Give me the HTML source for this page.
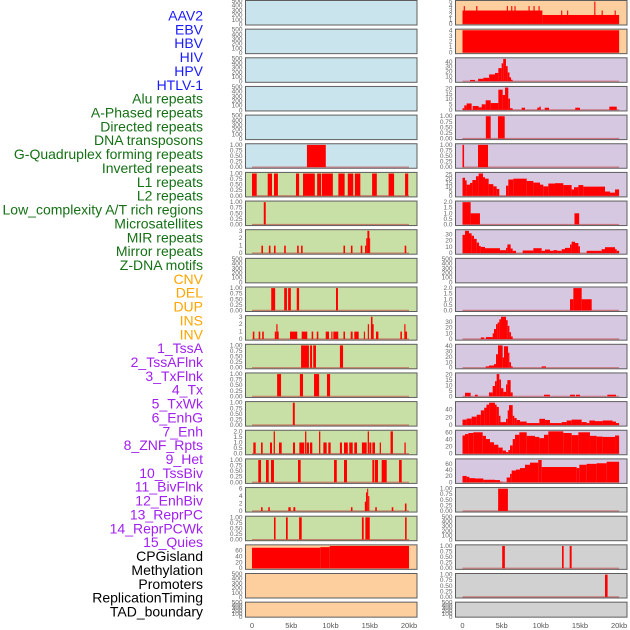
<!DOCTYPE html>
<html><head><meta charset="utf-8"><style>
html,body{margin:0;padding:0;background:#fff;width:630px;height:630px;overflow:hidden}
svg{display:block;font-family:"Liberation Sans",sans-serif}
</style></head><body>
<svg id="chart" width="630" height="630" viewBox="0 0 630 630" xmlns="http://www.w3.org/2000/svg"></svg>
<script>
const labelNames=["AAV2","EBV","HBV","HIV","HPV","HTLV-1","Alu repeats","A-Phased repeats","Directed repeats","DNA transposons","G-Quadruplex forming repeats","Inverted repeats","L1 repeats","L2 repeats","Low_complexity A/T rich regions","Microsatellites","MIR repeats","Mirror repeats","Z-DNA motifs","CNV","DEL","DUP","INS","INV","1_TssA","2_TssAFlnk","3_TxFlnk","4_Tx","5_TxWk","6_EnhG","7_Enh","8_ZNF_Rpts","9_Het","10_TssBiv","11_BivFlnk","12_EnhBiv","13_ReprPC","14_ReprPCWk","15_Quies","CPGisland","Methylation","Promoters","ReplicationTiming","TAD_boundary"];
const labelGroups=[6,13,5,15,5];
const groupColors=["#1a1aff","#157015","#ffa500","#a020f0","#000000"];
const xTickValues=[0,5,10,15,20];
const xTickLabels=["0","5kb","10kb","15kb","20kb"];
const E=[0,100,200,300,400,500], B=[0,0.25,0.5,0.75,1], T2=[0,0.5,1,1.5,2], T3=[0,1,2,3];
const L5=[[7.0,9.4,1]];
const L6=[[0,0.6,1],[2.0,2.55,1],[2.8,3.3,1],[5.6,6.0,1],[6.5,8.0,1],[8.3,8.8,1],[8.9,10.3,1],[11.0,11.8,1],[12.2,12.9,1],[13.1,13.8,1],[15.3,15.9,1],[17.4,18.1,1],[19.5,19.9,1]];
const L7=[[1.5,1.75,1]];
const L8=[[1.2,1.4,1],[2.15,2.35,1],[2.8,3.0,1],[4.1,4.3,1],[5.75,5.95,1],[6.25,6.45,1],[11.65,11.85,1],[12.6,12.8,1],[13.85,14.05,1],[14.4,14.55,1],[14.55,14.7,2],[14.7,14.95,3],[14.95,15.05,2],[19.45,19.65,1]];
const L10=[[2.45,2.95,1],[4.1,4.45,1],[4.6,4.95,1],[5.7,6.0,1],[10.7,10.95,1]];
const L11=[[0.1,0.3,1],[0.85,1.05,1],[1.3,1.5,1],[2.9,3.1,1],[3.1,3.25,2],[3.25,3.4,1],[4.84,5.77,1],[6.33,7.04,1],[7.6,7.8,1],[8.25,8.45,1],[9.39,9.81,1],[10.1,10.25,1],[10.36,10.99,1],[11.65,11.85,1],[12.57,12.82,1],[13.03,13.59,1],[14.25,14.4,1],[14.75,14.9,2],[15.15,15.35,3],[15.35,15.5,2],[15.8,16.1,1],[18.9,19.1,1],[19.4,19.55,2],[19.55,19.75,1]];
const L12=[[6.25,7.25,1],[7.4,7.65,1],[7.8,8.15,1],[11.2,11.6,1]];
const L13=[[3.2,3.7,1],[6.1,6.5,1],[7.9,8.55,1],[9.55,9.95,1]];
const L14=[[5.2,5.45,1]];
const L15=[[0.17,0.47,1],[1.15,1.36,1],[2.29,2.55,1],[2.76,2.92,2],[3.44,3.78,1],[5.22,5.48,1],[6.03,6.66,1],[6.76,6.92,2],[6.97,7.26,1],[7.39,7.68,1],[8.54,8.7,2],[9.09,9.51,1],[9.72,10.02,1],[11.2,11.46,1],[11.72,12.2,1],[12.39,12.83,1],[13.03,13.38,1],[14.0,14.61,1],[14.74,14.9,2],[14.94,15.2,1],[15.33,15.67,1],[16.27,16.43,1],[17.65,17.95,2],[19.42,19.58,1]];
const L16=[[0.8,1.15,1],[1.78,2.13,1],[2.42,2.8,1],[5.86,6.2,1],[10.45,10.8,1],[11.72,12.1,1],[15.33,15.58,1],[15.67,16.05,1],[16.52,17.16,1],[18.73,19.07,1]];
const L17=[[1.15,1.35,1],[2.07,2.27,1],[4.63,4.93,1],[5.27,5.52,1],[12.6,12.8,1],[14.37,14.52,2.5],[14.52,14.67,5],[14.67,14.8,6],[14.8,14.95,4],[15.7,15.9,1],[17.8,18.0,1],[19.48,19.68,2]];
const L18=[[2.8,3.0,1],[4.33,4.55,1],[6.0,6.33,1],[14.0,14.23,1],[14.44,15.0,1],[19.5,19.7,1]];
const L19=[[0,8.7,69],[8.7,9.9,71],[9.9,20,75]];
const R0=[[0,10.2,3],[10.2,20,2],[0.16,0.3,4],[1.75,1.9,4],[5.66,5.8,4],[6.22,6.36,4],[6.64,6.78,4],[8.43,8.57,4],[9.07,9.21,4],[9.71,9.85,4],[12.6,12.74,3],[13.36,13.5,3],[16.83,16.97,5],[17.77,17.91,3],[19.43,19.57,3]];
const R1=[[0,20,4]];
const R2=[[0.96,1.6,2.6],[2.0,2.66,5],[2.66,3.4,7],[3.4,4.15,14],[4.15,4.58,17],[4.58,5.0,27],[5.0,5.2,37],[5.2,5.55,46],[5.55,5.77,31],[5.77,6.0,18],[6.0,6.2,8],[6.2,6.4,3]];
const R3=[[0,0.23,1.5],[0.23,0.53,4.2],[0.53,1.17,6],[1.3,2.06,3.6],[2.06,2.45,2.4],[2.45,2.96,5.2],[2.96,3.6,9],[3.6,4.58,6.4],[4.58,5.13,19],[5.13,5.43,14],[5.43,5.85,21],[5.85,6.07,10.6],[6.07,6.4,1.5],[7.55,7.98,2],[9.55,9.8,2],[9.8,10.0,3],[10.5,11.05,2],[14.4,15.0,2],[18.75,19.7,3]];
const R4=[[2.98,3.6,1],[4.53,5.39,1]];
const R5=[[0,0.2,1],[1.98,3.26,1]];
const R6=[[0,0.32,21],[0.32,0.53,18],[0.53,0.96,13],[0.96,1.26,15],[1.26,1.72,18.4],[1.72,2.06,22.8],[2.06,2.62,26],[2.62,2.87,21.7],[2.87,3.34,20],[3.34,3.94,13.6],[3.94,4.36,11],[4.36,4.7,8],[5.56,5.85,11.8],[5.85,6.49,19],[6.49,8.2,20],[8.2,9.05,17.3],[9.05,9.9,15.4],[9.9,10.32,13],[10.32,10.96,11],[10.96,11.81,14.3],[11.81,12.88,14.7],[12.88,13.94,12.5],[13.94,14.24,7.4],[14.24,14.8,10],[14.8,15.43,12.5],[15.43,18.2,10.7],[18.2,18.84,5],[18.84,19.48,3.7],[19.48,20,7.4]];
const R7=[[0,1.04,2],[1.04,2.23,1],[14.3,14.9,1]];
const R8=[[0,0.32,29.5],[0.32,0.83,36],[0.83,1.17,32],[1.17,1.47,28],[1.47,1.81,23],[1.81,2.11,17],[2.11,2.32,11.6],[2.32,2.87,10],[2.87,4.79,7.9],[4.79,5.56,4.7],[5.56,5.73,8.4],[5.73,6.15,14],[6.15,6.41,7.4],[6.41,6.84,3.7],[7.68,9.05,4.2],[9.05,10.11,7.9],[10.11,10.54,3.7],[10.54,11.17,5.8],[11.17,11.6,3.7],[11.6,12.11,4.7],[12.11,12.67,3.7],[12.67,13.09,6.3],[13.09,13.73,8.4],[13.73,13.94,14],[13.94,14.37,18.4],[14.37,14.8,16.3],[14.8,15.0,11],[15.86,17.77,3.7],[17.77,18.2,6.3],[18.2,19.48,9.5],[19.48,19.69,6.3],[19.69,20,3.7]];
const R10=[[13.73,14.16,1],[14.16,15.22,2],[15.22,16.5,1]];
const R11=[[2.34,2.77,2.8],[2.98,3.85,3.4],[3.85,4.02,10],[4.02,4.28,17.5],[4.28,4.49,26],[4.49,4.7,29],[4.7,4.92,34.5],[4.92,5.56,39],[5.56,5.77,33],[5.77,5.99,23],[5.99,6.2,11.9],[6.2,6.41,4.5]];
const R12=[[2.96,3.38,2.4],[3.38,4.02,4],[4.02,4.28,6.5],[4.28,4.53,24.7],[4.53,5.13,41],[5.13,5.3,18.8],[5.3,5.82,39.4],[5.82,5.99,27.6],[5.99,6.2,10],[6.2,6.41,2.4],[10.11,10.66,2.4]];
const R13=[[0.32,1.04,3.3],[1.6,1.94,1.5],[3.38,3.85,3.6],[3.85,4.15,9.6],[4.15,4.36,14],[4.36,4.7,20.6],[4.7,4.92,15.5],[4.92,5.22,7.5],[5.22,5.56,4.2],[5.56,5.73,11],[5.73,6.15,15],[6.15,6.41,3.6],[10.41,11.17,1.5],[13.73,14.37,1.5],[14.5,15.0,1.5],[18.5,19.6,1.5]];
const R14=[[0,0.53,14],[0.53,1.17,16.7],[1.17,1.81,21.7],[1.81,2.34,26.7],[2.34,2.77,38],[2.77,3.06,45],[3.06,3.4,53],[3.4,4.15,58],[4.15,4.36,53],[4.36,4.64,47],[4.64,4.85,24],[4.85,5.56,7.5],[5.56,5.77,16],[5.77,5.94,38],[5.94,6.41,51.7],[6.41,6.62,24],[6.62,6.92,18],[6.92,7.34,13],[7.34,8.2,9],[8.2,9.82,5],[9.82,10.54,16],[10.54,11.17,13],[11.17,12.67,5],[12.67,13.3,7.5],[13.3,13.94,11.7],[13.94,15.22,14],[15.22,15.86,7.5],[15.86,16.2,5],[16.2,16.92,11.7],[16.92,17.9,10],[17.9,19.16,11.7],[19.16,19.6,9],[19.6,20,5]];
const R15=[[0,0.32,51],[0.32,0.75,55],[0.75,1.38,58],[1.38,2.58,60],[2.58,3.0,50],[3.0,3.51,41],[3.51,4.02,32],[4.02,4.58,25],[4.58,5.13,17],[5.13,5.56,8.7],[5.56,5.85,4.3],[5.85,6.07,10],[6.07,6.41,23],[6.41,6.71,41],[6.71,7.26,53],[7.26,8.2,60],[8.2,9.26,50],[9.26,9.82,47],[9.82,10.41,43.5],[10.41,10.96,53],[10.96,12.88,62.6],[12.88,13.94,58],[13.94,14.8,52],[14.8,16.28,60],[16.28,17.13,50],[17.13,17.9,48],[17.9,19.48,47],[19.48,20,51]];
const R16=[[0,0.54,21],[0.54,0.88,18],[0.88,1.6,13.7],[1.6,2.66,12.6],[2.66,4.15,8.4],[4.15,4.79,7.4],[4.79,5.13,2],[5.64,6.07,15.8],[6.07,6.28,28],[6.28,6.83,39],[6.83,7.34,42],[7.34,7.98,47],[7.98,8.62,58],[8.62,9.68,65],[9.68,10.11,73.7],[10.11,14.58,50.5],[14.58,14.92,47],[14.92,15.86,58],[15.86,17.13,61],[17.13,18.41,63],[18.41,20,68]];
const R17=[[4.55,5.8,1]];
const R19=[[5.07,5.41,1],[12.71,12.92,1],[13.69,13.94,1]];
const R20=[[18.2,18.53,1]];

const BG={b:"#c9e4ec",g:"#c8e0a5",p:"#fecf9e",l:"#d7c8e2",y:"#d1d1d1"};
const leftPanels=[["b",E,null],["b",E,null],["b",E,null],["b",E,null],["b",E,null],["b",B,L5],
["g",B,L6],["g",B,L7],["g",T3,L8],["g",E,null],["g",B,L10],["g",T3,L11],["g",B,L12],["g",B,L13],["g",B,L14],["g",T2,L15],["g",B,L16],["g",[0,2,4,6],L17],["g",B,L18],
["p",[0,20,40,60],L19],["p",E,null],["p",E,null]];
const rightPanels=[["p",[0,1,2,3,4,5],R0],["p",[0,1,2,3,4],R1],["l",[0,10,20,30,40],R2],["l",[0,5,10,15,20],R3],["l",B,R4],["l",B,R5],["l",[0,5,10,15,20,25],R6],["l",T2,R7],["l",[0,10,20,30],R8],["l",E,null],["l",T2,R10],["l",[0,10,20,30],R11],["l",[0,10,20,30,40],R12],["l",[0,5,10,15,20],R13],["l",[0,20,40],R14],["l",[0,20,40,60],R15],["l",[0,20,40,60],R16],
["y",B,R17],["y",E,null],["y",B,R19],["y",B,R20],["y",E,null]];

const svg=document.getElementById("chart");
const NS="http://www.w3.org/2000/svg";
function mk(tag,attrs,parent){const e=document.createElementNS(NS,tag);for(const k in attrs)e.setAttribute(k,attrs[k]);(parent||svg).appendChild(e);return e;}

// labels
let li=0;
labelGroups.forEach((n,g)=>{for(let k=0;k<n;k++){
  const t=mk("text",{x:203,y:20.5+li*13.86,"text-anchor":"end","font-size":"14",fill:groupColors[g]});
  t.textContent=labelNames[li];
  
  
  li++;}});

const cols=[{x0:245.5,x1:417,k0:252,kpx:7.85,panels:leftPanels,side:"left"},{x0:455.5,x1:627,k0:462.5,kpx:7.83,panels:rightPanels,side:"right"}];
function fmt(v,t){if(t===B)return v.toFixed(2);if(t===T2)return v.toFixed(1);return String(v);}
cols.forEach(c=>{
  const xs=kb=>c.k0+kb*c.kpx;
  c.panels.forEach((p,i)=>{
    const top=0.5+28.65*i, h=(i===21)?15:24.5;
    const g=mk("g",{});
    
    
    mk("rect",{x:c.x0,y:top,width:c.x1-c.x0,height:h,fill:BG[p[0]],stroke:"#5e5e5e","stroke-width":1},g);
    const ticks=p[1], data=p[2];
    let lo,hi;
    if(!data){lo=-12;hi=512;}else{let m=0;data.forEach(d=>{if(d[2]>m)m=d[2];});lo=-0.05*m;hi=1.05*m;}
    const ys=v=>top+h-(v-lo)/(hi-lo)*h;
    ticks.forEach(v=>{
      const t=mk("text",{x:c.x0-3,y:ys(v)+2,"text-anchor":"end","font-size":"6.5",fill:"#666"},g);
      t.textContent=fmt(v,ticks);
      
      
    });
    if(data){
      mk("line",{x1:xs(0),x2:xs(20),y1:ys(0),y2:ys(0),stroke:"#c04040","stroke-width":1.2,"stroke-opacity":0.6},g);
      data.forEach(d=>{
        const r=mk("rect",{x:xs(d[0]),y:ys(d[2]),width:Math.max(0.8,xs(d[1])-xs(d[0])),height:ys(0)-ys(d[2]),fill:"#ff0000"},g);
        
        
      });
    }
  });
  xTickValues.forEach((v,j)=>{
    const t=mk("text",{x:xs(v),y:628,"text-anchor":"middle","font-size":"7.5",fill:"#555"});
    t.textContent=xTickLabels[j];
    
    
  });
});
</script>
</body></html>
